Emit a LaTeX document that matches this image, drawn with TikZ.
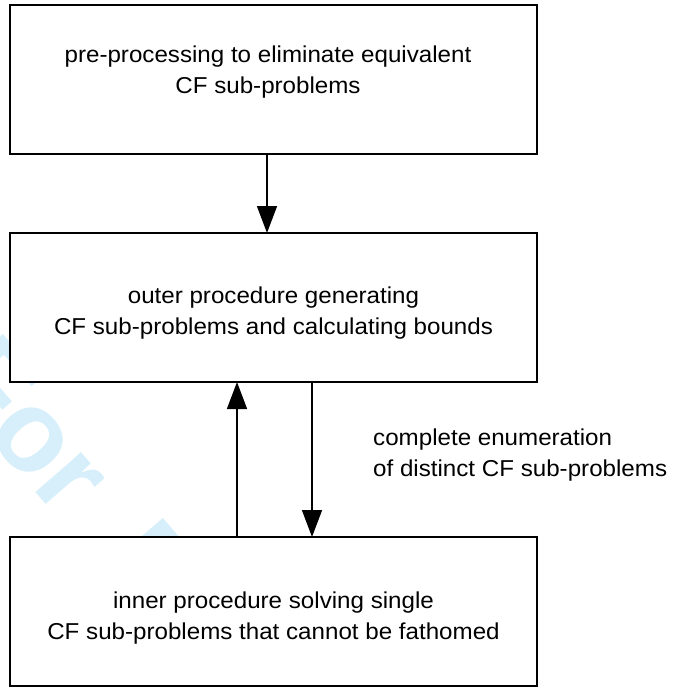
\documentclass[tikz,border=0pt]{standalone}
\usepackage{fontspec}
\setmainfont{Liberation Sans}
\usetikzlibrary{arrows.meta}
\definecolor{wmcyan}{RGB}{214,239,250}
\newcommand\wtext[1]{\scalebox{1.05}[1]{#1}}
\begin{document}
\begin{tikzpicture}[x=1pt,y=-1pt,
  box/.style={draw, line width=2pt, fill=white, minimum width=527pt, minimum height=149pt, inner sep=0pt, outer sep=0pt},
  txt/.style={font=\fontsize{23}{31}\selectfont, inner sep=0pt},
  arr/.style={line width=1.5pt, -{Triangle[width=20pt,length=27pt]}},
  wm/.style={text=wmcyan, font=\fontsize{115}{115}\selectfont\bfseries, rotate=-49, anchor=base west, inner sep=0pt}]
\useasboundingbox (0,0) rectangle (680,688);
\begin{scope}
  \clip (0,0) rectangle (680,686);
  \node[wm] (wm) at (-61.5,380.4) {For\hspace{58pt}Peer};
\end{scope}
\node[box] (b1) at (273.5,79.5) {};
\node[box] (b2) at (273.5,307.5) {};
\node[box] (b3) at (273.5,611.5) {};
\node[txt, anchor=base] (t1) at (268,62) {\begin{tabular}[t]{@{}c@{}}\wtext{pre-processing to eliminate equivalent}\\ \wtext{CF sub-problems}\end{tabular}};
\node[txt, anchor=base] (t2) at (273.5,303) {\begin{tabular}[t]{@{}c@{}}\wtext{outer procedure generating}\\ \wtext{CF sub-problems and calculating bounds}\end{tabular}};
\node[txt, anchor=base] (t3) at (273.5,608) {\begin{tabular}[t]{@{}c@{}}\wtext{inner procedure solving single}\\ \wtext{CF sub-problems that cannot be fathomed}\end{tabular}};
\node[txt, anchor=base west] (lab) at (373,445) {\begin{tabular}[t]{@{}l@{}}\wtext{complete enumeration}\\ \wtext{of distinct CF sub-problems}\end{tabular}};
\coordinate (xa) at (267,0);
\coordinate (xu) at (237,0);
\coordinate (xd) at (312,0);
\draw[arr] (b1.south -| xa) -- (b2.north -| xa);
\draw[arr] (b3.north -| xu) -- (b2.south -| xu);
\draw[arr] (b2.south -| xd) -- (b3.north -| xd);
\end{tikzpicture}
\end{document}
